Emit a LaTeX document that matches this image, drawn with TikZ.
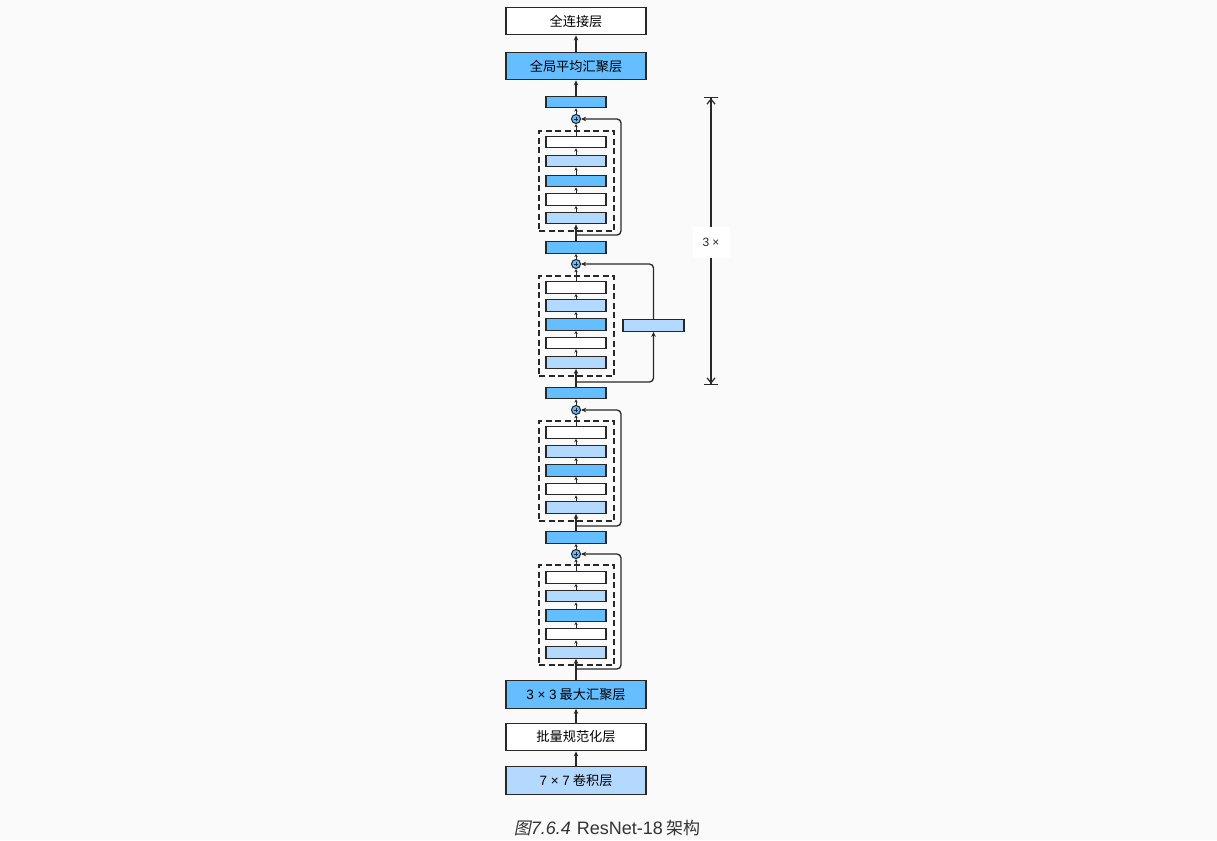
\documentclass[tikz,border=0pt]{standalone}
\usepackage{fontspec}
\usetikzlibrary{arrows.meta,calc}
\newfontfamily\cjk{Noto Sans CJK SC}
\newfontfamily\cjksl[FakeSlant=0.2]{Noto Sans CJK SC}
\newfontfamily\lat{Liberation Sans}
\definecolor{cblue}{RGB}{100,190,255}
\definecolor{clight}{RGB}{179,217,255}
\definecolor{cline}{RGB}{40,40,40}
\definecolor{cbg}{RGB}{250,250,250}
\tikzset{
  blk/.style={rectangle, draw=cline, line width=1.3pt, inner sep=0pt},
  small/.style={blk, minimum width=60pt, minimum height=11.5pt},
  big/.style={blk, minimum width=140pt, minimum height=27.5pt, font=\cjk\fontsize{13.2}{15}\selectfont},
  dbox/.style={rectangle, draw=cline, line width=1.5pt, dash pattern=on 6pt off 3.5pt, minimum width=75pt, minimum height=100pt, inner sep=0pt},
  plus/.style={circle, draw=cline, fill=cblue, minimum size=9pt, inner sep=0pt, line width=1.1pt,
    path picture={\draw[line width=0.6pt,cline] ([xshift=-2.3pt]path picture bounding box.center) -- ([xshift=2.3pt]path picture bounding box.center) ([yshift=-2.3pt]path picture bounding box.center) -- ([yshift=2.3pt]path picture bounding box.center);}},
  arr/.style={draw=cline, line width=1.3pt, -{Stealth[length=5pt,width=4.5pt]}},
  tarr/.style={draw=cline, line width=1pt, -{Stealth[length=3.2pt,width=3.4pt]}},
  skip/.style={arr, rounded corners=4pt},
}
\begin{document}
\begin{tikzpicture}[x=1pt,y=-1pt]
\fill[cbg] (0,0) rectangle (1217,840);
\useasboundingbox (0,0) rectangle (1217,840);

% top
\node[big, fill=white] (fc) at (576,21) {全连接层};
\node[big, fill=cblue] (gap) at (576,66) {全局平均汇聚层};

% stage 1 (top)
\node[small, fill=cblue] (b1) at (576,102) {};
\node[plus] (p1) at (576,119) {};
\node[dbox] (d1) at (576.5,181) {};
\node[small, fill=white]  (a1) at (576,142) {};
\node[small, fill=clight] (a2) at (576,161) {};
\node[small, fill=cblue]  (a3) at (576,181) {};
\node[small, fill=white]  (a4) at (576,199.5) {};
\node[small, fill=clight] (a5) at (576,218) {};
\coordinate (k1) at (576,235);
\coordinate (r1) at (621,235);

% stage 2
\node[small, fill=cblue] (b2) at (576,247.5) {};
\node[plus] (p2) at (576,264) {};
\node[dbox] (d2) at (576.5,326) {};
\node[small, fill=white]  (c1) at (576,287.5) {};
\node[small, fill=clight] (c2) at (576,305.5) {};
\node[small, fill=cblue]  (c3) at (576,324.5) {};
\node[small, fill=white]  (c4) at (576,343) {};
\node[small, fill=clight] (c5) at (576,362.5) {};
\node[small, fill=clight, minimum width=61pt] (s) at (653.5,325.5) {};
\coordinate (k2) at (576,382);

% stage 3
\node[small, fill=cblue] (b3) at (576,393) {};
\node[plus] (p3) at (576,410) {};
\node[dbox] (d3) at (576.5,471) {};
\node[small, fill=white]  (e1) at (576,432.5) {};
\node[small, fill=clight] (e2) at (576,451.5) {};
\node[small, fill=cblue]  (e3) at (576,470.5) {};
\node[small, fill=white]  (e4) at (576,489) {};
\node[small, fill=clight] (e5) at (576,507.5) {};
\coordinate (k3) at (576,526);
\coordinate (r3) at (621,526);

% stage 4
\node[small, fill=cblue] (b4) at (576,537.5) {};
\node[plus] (p4) at (576,554) {};
\node[dbox] (d4) at (576.5,615) {};
\node[small, fill=white]  (g1) at (576,577.5) {};
\node[small, fill=clight] (g2) at (576,596) {};
\node[small, fill=cblue]  (g3) at (576,615.5) {};
\node[small, fill=white]  (g4) at (576,634) {};
\node[small, fill=clight] (g5) at (576,652.5) {};
\coordinate (k4) at (576,669);
\coordinate (r4) at (621,669);

% bottom
\node[big, fill=cblue] (mp) at (576,694.5) {{\lat\fontsize{13.5}{15}\selectfont 3 × 3} 最大汇聚层};
\node[big, fill=white] (bn) at (576,737) {批量规范化层};
\node[big, fill=clight] (cv) at (576,780.5) {{\lat\fontsize{13.5}{15}\selectfont 7 × 7} 卷积层};

% trunk arrows
\draw[arr] (cv) -- (bn);
\draw[arr] (bn) -- (mp);
\draw[arr] (mp) -- (g5);
\draw[tarr] (g5) -- (g4);
\draw[tarr] (g4) -- (g3);
\draw[tarr] (g3) -- (g2);
\draw[tarr] (g2) -- (g1);
\draw[tarr] (g1) -- (p4);
\draw[tarr] (p4) -- (b4);
\draw[skip] (k4) -- (r4) |- (p4.east);

\draw[arr] (b4) -- (e5);
\draw[tarr] (e5) -- (e4);
\draw[tarr] (e4) -- (e3);
\draw[tarr] (e3) -- (e2);
\draw[tarr] (e2) -- (e1);
\draw[tarr] (e1) -- (p3);
\draw[tarr] (p3) -- (b3);
\draw[skip] (k3) -- (r3) |- (p3.east);

\draw[arr] (b3) -- (c5);
\draw[tarr] (c5) -- (c4);
\draw[tarr] (c4) -- (c3);
\draw[tarr] (c3) -- (c2);
\draw[tarr] (c2) -- (c1);
\draw[tarr] (c1) -- (p2);
\draw[tarr] (p2) -- (b2);
\draw[skip] (k2) -| (s.south);
\draw[skip] (s.north) |- (p2.east);

\draw[arr] (b2) -- (a5);
\draw[tarr] (a5) -- (a4);
\draw[tarr] (a4) -- (a3);
\draw[tarr] (a3) -- (a2);
\draw[tarr] (a2) -- (a1);
\draw[tarr] (a1) -- (p1);
\draw[tarr] (p1) -- (b1);
\draw[skip] (k1) -- (r1) |- (p1.east);

\draw[arr] (b1) -- (gap);
\draw[arr] (gap) -- (fc);

% dimension
\coordinate (dt) at (711,97);
\coordinate (db) at (711,385);
\draw[draw=cline, line width=1.2pt, {Bar[width=14pt,sep=0pt]Straight Barb[length=5pt,width=8pt]}-{Straight Barb[length=5pt,width=8pt]Bar[width=14pt,sep=0pt]}] (dt) -- (db);
\node[fill=white, minimum width=37pt, minimum height=31pt, inner sep=0pt, font=\lat\fontsize{12}{14}\selectfont, text=cline] (lbl) at (711,242) {3 ×};

% caption
\node[text=black!80, inner sep=0pt] (cap) at (607,828) {{\cjksl\fontsize{17}{20}\selectfont 图}{\lat\itshape\fontsize{18}{20}\selectfont 7.6.4}\hspace{6pt}{\lat\fontsize{18}{20}\selectfont ResNet-18} {\cjk\fontsize{17}{20}\selectfont 架构}};
\end{tikzpicture}
\end{document}
